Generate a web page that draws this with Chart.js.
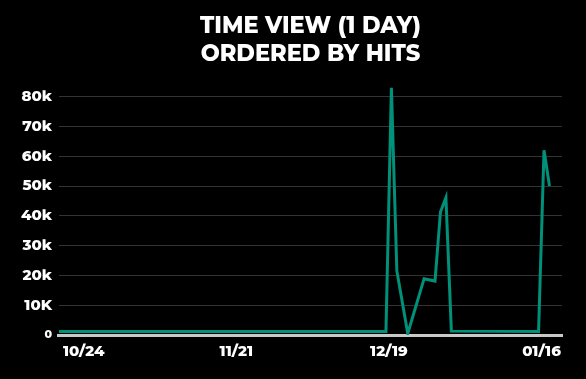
<!DOCTYPE html>
<html>
<head>
<meta charset="utf-8">
<script src="https://cdn.jsdelivr.net/npm/chart.js"></script>
<style>
  html, body { margin: 0; padding: 0; background: #000; }
  #wrap { width: 586px; height: 379px; }
</style>
</head>
<body>
<div id="wrap"><canvas id="timeView"></canvas></div>
<script>
// day offsets counted from 10/20, and hits per day
const days = [0, 60, 61, 62, 64, 67, 69, 70, 71, 72, 88, 89, 90];
const hits = [1200, 1200, 83000, 21500, 500, 18900, 18100, 41300, 46100, 1300, 1200, 62000, 50000];

const tickDays = [4, 32, 60, 88];
const tickLabels = ['10/24', '11/21', '12/19', '01/16'];

const yTicks = [0, 10000, 20000, 30000, 40000, 50000, 60000, 70000, 80000];
const yTickLabels = ['0', '10K', '20k', '30k', '40k', '50k', '60k', '70k', '80k'];

const fontFamily = "'Montserrat', 'Open Sans', 'Lato', sans-serif";

const points = days.map((d, i) => ({ x: d, y: hits[i] }));

new Chart(document.getElementById('timeView'), {
  type: 'line',
  data: {
    datasets: [{
      label: 'Hits',
      data: points,
      borderColor: '#00917b',
      borderWidth: 3,
      pointRadius: 0,
      tension: 0
    }]
  },
  options: {
    responsive: true,
    maintainAspectRatio: false,
    animation: false,
    layout: { padding: { left: 14, right: 24, top: 12, bottom: 10 } },
    plugins: {
      legend: { display: false },
      tooltip: { enabled: false },
      title: {
        display: true,
        fullSize: false,
        text: ['TIME VIEW (1 DAY)', 'ORDERED BY HITS'],
        color: '#fff',
        font: { family: fontFamily, size: 22.5, weight: '800', lineHeight: 1.25 },
        padding: { top: 0, bottom: 18 }
      }
    },
    scales: {
      x: {
        type: 'linear',
        min: 0,
        max: 92.3,
        afterBuildTicks: (axis) => { axis.ticks = tickDays.map(v => ({ value: v })); },
        ticks: {
          color: '#fff',
          font: { family: fontFamily, size: 15, weight: '800' },
          padding: 8,
          labelOffset: 3,
          maxRotation: 0,
          callback: (v) => tickLabels[tickDays.indexOf(v)]
        },
        grid: { display: false, drawTicks: false },
        border: { color: '#c8c8c8', width: 3 }
      },
      y: {
        min: 0,
        max: 83500,
        afterBuildTicks: (axis) => { axis.ticks = yTicks.map(v => ({ value: v })); },
        ticks: {
          color: '#fff',
          font: (ctx) => ({ family: fontFamily, size: ctx.tick && ctx.tick.value === 0 ? 11 : 15, weight: '800' }),
          padding: 7,
          callback: (v) => yTickLabels[yTicks.indexOf(v)]
        },
        grid: { color: '#333', lineWidth: 1, drawTicks: false },
        border: { display: false }
      }
    }
  }
});
</script>
</body>
</html>
